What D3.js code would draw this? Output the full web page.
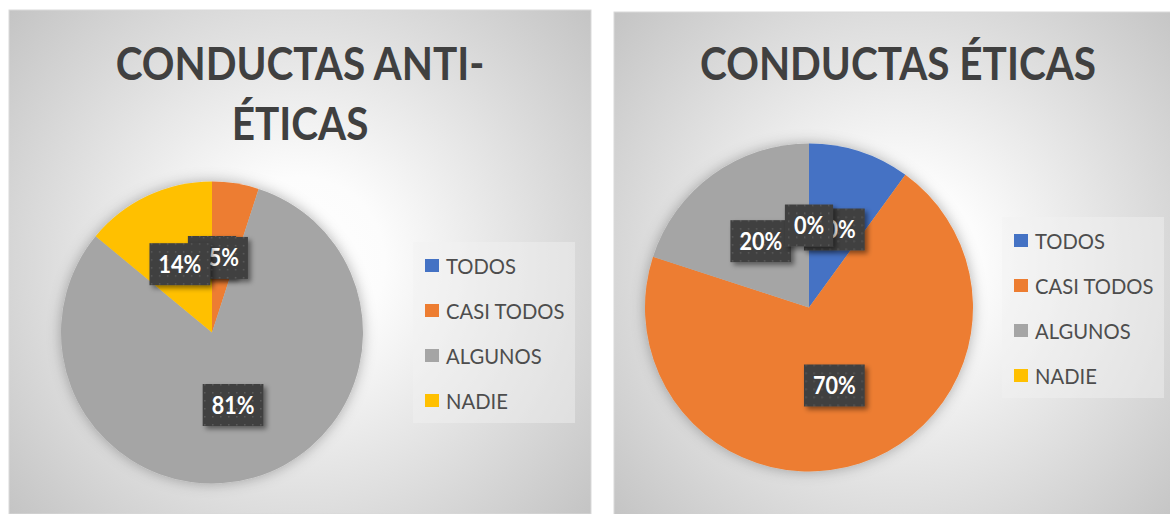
<html>
<head>
<script src="https://d3js.org/d3.v7.min.js"></script>
<style>
  body { margin: 0; background: #fff; }
  svg text { font-family: Lato, "Open Sans", sans-serif; }
</style>
</head>
<body>
<svg id="chart" width="1170" height="514"></svg>
<script>
// data
const categories = ['TODOS', 'CASI TODOS', 'ALGUNOS', 'NADIE']
const colors = ['#4472C4', '#ED7D31', '#A5A5A5', '#FFC000']
const antiEticasValues = [0, 5, 81, 14]
const eticasValues = [10, 70, 20, 0]
const antiEticasTitle = ['CONDUCTAS ANTI-', 'ÉTICAS']
const eticasTitle = ['CONDUCTAS ÉTICAS']

const svg = d3.select('svg#chart')
const defs = svg.append('defs')

// dotted fill for the data labels
const pat = defs.append('pattern')
  .attr('id', 'dots')
  .attr('patternUnits', 'userSpaceOnUse')
  .attr('width', 8).attr('height', 8)
pat.append('rect').attr('width', 8).attr('height', 8).attr('fill', '#404040')
pat.append('rect').attr('x', 3).attr('y', 3).attr('width', 1.5).attr('height', 1.5).attr('fill', '#5c5c5c')

const lblShadow = defs.append('filter').attr('id', 'lblShadow')
  .attr('x', '-30%').attr('y', '-30%').attr('width', '160%').attr('height', '160%')
lblShadow.append('feDropShadow')
  .attr('dx', 3).attr('dy', 3).attr('stdDeviation', 2.5)
  .attr('flood-color', '#000').attr('flood-opacity', 0.45)

const pieShadow = defs.append('filter').attr('id', 'pieShadow')
  .attr('x', '-20%').attr('y', '-20%').attr('width', '140%').attr('height', '140%')
pieShadow.append('feDropShadow')
  .attr('dx', 0).attr('dy', 0).attr('stdDeviation', 7)
  .attr('flood-color', '#000').attr('flood-opacity', 0.3)

const color = d3.scaleOrdinal().domain(categories).range(colors)
const pct = d3.format('.0%')

// Lato is wider than the Calibri of the original, so squeeze it a bit
const squeeze = 0.9

function drawPanel(id, box, values, titleLines, titleY, pieC, radius, legPos) {
  const g = svg.append('g')
    .attr('id', id)
    .attr('transform', `translate(${box.x}, ${box.y})`)

  // radial background
  const grad = defs.append('radialGradient')
    .attr('id', id + '-bg')
    .attr('gradientUnits', 'userSpaceOnUse')
    .attr('cx', box.w / 2).attr('cy', box.h / 2)
    .attr('r', Math.hypot(box.w, box.h) / 2)
  grad.append('stop').attr('offset', '0%').attr('stop-color', '#ffffff')
  grad.append('stop').attr('offset', '22%').attr('stop-color', '#fcfcfc')
  grad.append('stop').attr('offset', '100%').attr('stop-color', '#c4c4c4')

  g.append('rect')
    .attr('width', box.w).attr('height', box.h)
    .attr('fill', `url(#${id}-bg)`)
    .attr('stroke', '#d9d9d9')

  // title
  g.append('g')
    .attr('transform', `translate(${box.w / 2}, 0) scale(${squeeze}, 1)`)
    .selectAll('text').data(titleLines)
    .join('text')
    .attr('x', 0)
    .attr('y', (d, i) => titleY[i])
    .attr('text-anchor', 'middle')
    .attr('font-size', 45)
    .attr('font-weight', 'bold')
    .attr('fill', '#404040')
    .text(d => d)

  const data = categories.map((c, i) => ({cat: c, value: values[i]}))
  const total = d3.sum(values)
  const arcs = d3.pie().sort(null).value(d => d.value)(data)
  const arc = d3.arc().innerRadius(0).outerRadius(radius)

  const pieG = g.append('g')
    .attr('transform', `translate(${pieC[0]}, ${pieC[1]})`)

  pieG.append('g')
    .attr('filter', 'url(#pieShadow)')
    .selectAll('path').data(arcs)
    .join('path')
    .attr('d', arc)
    .attr('fill', d => color(d.data.cat))

  // data labels, drawn in series order so later ones sit on top
  arcs.forEach(d => {
    const [lx, ly] = arc.centroid(d)
    const lg = pieG.append('g').attr('transform', `translate(${lx}, ${ly})`)
    const rect = lg.append('rect').attr('fill', 'url(#dots)').attr('filter', 'url(#lblShadow)')
    const t = lg.append('text')
      .attr('text-anchor', 'middle')
      .attr('y', 8.5)
      .attr('transform', `scale(${squeeze}, 1)`)
      .attr('font-size', 24)
      .attr('font-weight', 'bold')
      .attr('fill', '#ffffff')
      .text(pct(d.data.value / total))
    const w = t.node().getComputedTextLength() * squeeze + 18
    rect.attr('x', -w / 2).attr('y', -21).attr('width', w).attr('height', 42)
  })

  // legend
  const leg = g.append('g').attr('transform', `translate(${legPos[0]}, ${legPos[1]})`)
  leg.append('rect')
    .attr('width', 162).attr('height', 181)
    .attr('fill', '#f2f2f2').attr('opacity', 0.45)

  const yLeg = d3.scalePoint().domain(categories).range([24, 24 + 45 * 3])
  const item = leg.selectAll('g.item').data(categories)
    .join('g')
    .attr('class', 'item')
    .attr('transform', d => `translate(12, ${yLeg(d)})`)
  item.append('rect')
    .attr('y', -7).attr('width', 14).attr('height', 13)
    .attr('fill', d => color(d))
  item.append('text')
    .attr('transform', `translate(21, 8) scale(0.92, 1)`)
    .attr('font-size', 22)
    .attr('fill', '#4d4d4d')
    .text(d => d)
}

drawPanel('anti', {x: 9, y: 10, w: 582, h: 504}, antiEticasValues, antiEticasTitle,
  [70, 130], [203, 322.5], 151, [404, 232])
drawPanel('eticas', {x: 614, y: 12, w: 568, h: 504}, eticasValues, eticasTitle,
  [68], [195, 295.5], 164, [388, 205])
</script>
</body>
</html>
